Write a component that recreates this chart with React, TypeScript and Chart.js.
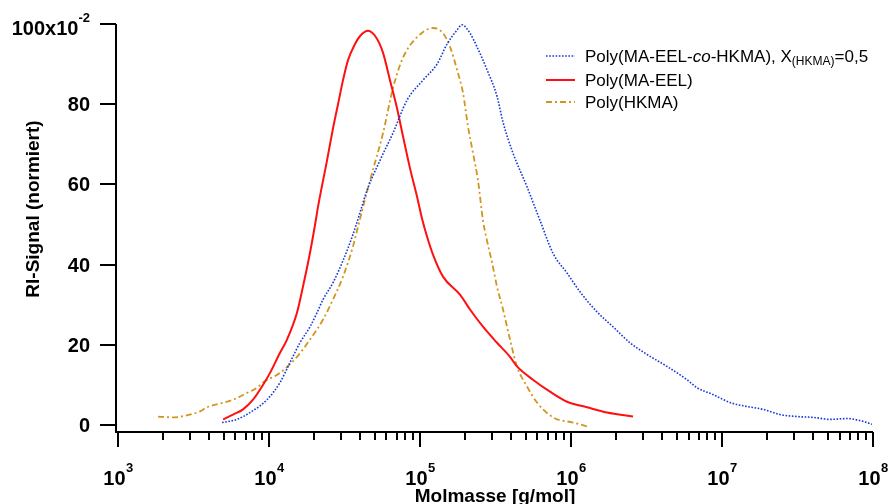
import React, { useEffect, useRef } from "react";
import { Chart, registerables } from "chart.js";

Chart.register(...registerables);

// ---------- data ----------
// Poly(MA-EEL-co-HKMA), X(HKMA)=0,5  (blue, dotted)
const molmassCopolymer = [
  4890, 6140, 7480, 9700, 11830, 13780, 16030, 18700, 20800, 22800, 26550, 30920,
  35980, 40100, 44560, 54330, 66220, 82020, 104700, 129700, 151100, 175900, 189800,
  214400, 238500, 277700, 323600, 354700, 413000, 511300, 623700, 760700, 941000,
  1148000, 1487000, 1897000, 2459000, 3186000, 4323000, 5861000, 6823000, 8710000,
  11290000, 14650000, 18700000, 24230000, 31410000, 40100000, 51900000, 67300000,
  85900000, 98400000,
];
const signalCopolymer = [
  0.6, 1.4, 3.1, 6.3, 10.6, 15.6, 20.5, 24.5, 28, 31.3, 35.5, 41,
  47.5, 53, 58.5, 66, 72.8, 81, 86, 90, 95, 98.5, 99.8,
  97.7, 94.3, 88.6, 82, 75.5, 67.8, 59.4, 51, 42.8, 37.9,
  33.2, 28.2, 24.5, 20.5, 17.6, 14.6, 11.3, 9.3, 7.6,
  5.6, 4.6, 3.9, 2.6, 2.1, 1.9, 1.4, 1.6,
  0.9, 0.2,
];

// Poly(MA-EEL)  (red, solid)
const molmassMAEEL = [
  4960, 5780, 6730, 7840, 8990, 10160, 11830, 13160, 15320, 16790, 18700, 20190,
  21140, 24230, 26550, 28650, 30920, 33370, 37130, 40100, 45290, 51500, 56920,
  63270, 70440, 77150, 85880, 95520, 103100, 111300, 121900, 142000, 184000,
  214400, 261300, 323600, 394500, 438900, 560000, 726000, 941000, 1277000,
  1731000, 2574000,
];
const signalMAEEL = [
  1.4, 2.6, 3.9, 6.3, 9.6, 13, 18, 21.3, 28, 34.5, 43, 50,
  54.5, 66, 74, 80, 86, 91, 95, 97, 98.3, 96.5, 92.8,
  86, 79, 72, 64, 57, 51.5, 47, 42.5, 37, 32.5,
  28.8, 24.5, 20.5, 17, 14.6, 11.3, 8.3, 5.8, 4.4,
  3.1, 2.1,
];

// Poly(HKMA)  (orange, dash-dot)
const molmassHKMA = [
  1842, 2312, 2997, 3490, 3880, 5270, 5780, 7150, 8330, 9120, 11830, 15320,
  18700, 22800, 26550, 30920, 35980, 38300, 46670, 56920, 66220, 77150, 95520,
  121900, 142000, 158100, 175900, 192700, 208000, 224400, 242100, 261300, 277700,
  299900, 323600, 354700, 394500, 438900, 511300, 595700, 760700, 1031000, 1297000,
];
const signalHKMA = [
  2.1, 1.9, 2.6, 3.4, 4.4, 5.8, 6.3, 8, 9.3, 10.6, 13, 17,
  21.3, 26.3, 31.3, 37, 44.5, 48.5, 61, 72.8, 84, 91.6, 96.7,
  99, 97.7, 94.3, 88.6, 82.8, 74.4, 67.8, 61, 51, 46,
  40.5, 34.5, 28.8, 21.3, 14.6, 9.6, 5.6, 1.9, 0.6, -0.4,
];

const xTickExponents = [3, 4, 5, 6, 7, 8];
const yTickValues = [0, 20, 40, 60, 80, 100];
const yTopTickMantissa = "100x10";
const yTopTickExponent = "-2";
const xTitle = "Molmasse [g/mol]";
const yTitle = "RI-Signal (normiert)";

const FONT = "'Liberation Sans', Arial, Helvetica, sans-serif";

const BLUE = "#1838d8";
const RED = "#ff1010";
const ORANGE = "#d1961e";

const toPoints = (xs: number[], ys: number[]) => xs.map((x, i) => ({ x, y: ys[i] }));

// ---------- custom Igor-like axes, labels and legend ----------
const igorPlugin = {
  id: "igorAxes",
  afterDatasetsDraw(chart: any) {
    const ctx: CanvasRenderingContext2D = chart.ctx;
    const xs = chart.scales.x;
    const ys = chart.scales.y;
    const { left, right, top, bottom } = chart.chartArea;
    ctx.save();
    ctx.setLineDash([]);
    ctx.strokeStyle = "#000";
    ctx.fillStyle = "#000";
    ctx.lineWidth = 2;
    ctx.lineCap = "butt";

    // axis lines
    ctx.beginPath();
    ctx.moveTo(left, top);
    ctx.lineTo(left, bottom);
    ctx.lineTo(right, bottom);
    ctx.stroke();

    // y ticks
    ctx.beginPath();
    for (const v of yTickValues) {
      const y = Math.round(ys.getPixelForValue(v));
      ctx.moveTo(left, y);
      ctx.lineTo(left - 16, y);
    }
    // x ticks (log major + minor)
    const eMin = xTickExponents[0];
    const eMax = xTickExponents[xTickExponents.length - 1];
    for (let e = eMin; e <= eMax; e++) {
      for (let m = 1; m <= 9; m++) {
        if (e === eMax && m > 1) break;
        const x = Math.round(xs.getPixelForValue(m * Math.pow(10, e)));
        const len = m === 1 ? 15 : 8;
        ctx.moveTo(x, bottom);
        ctx.lineTo(x, bottom + len);
      }
    }
    ctx.stroke();

    // y tick labels
    ctx.textAlign = "right";
    ctx.textBaseline = "alphabetic";
    for (const v of yTickValues) {
      const y = ys.getPixelForValue(v);
      if (v === 100) {
        ctx.font = `bold 13px ${FONT}`;
        const wSup = ctx.measureText(yTopTickExponent).width;
        ctx.fillText(yTopTickExponent, 90, 22);
        ctx.font = `bold 20px ${FONT}`;
        ctx.fillText(yTopTickMantissa, 90 - wSup, 35);
      } else {
        ctx.font = `bold 20px ${FONT}`;
        ctx.fillText(String(v), 90, y + 7);
      }
    }

    // x tick labels 10^n
    ctx.textAlign = "left";
    for (const e of xTickExponents) {
      const x = xs.getPixelForValue(Math.pow(10, e));
      ctx.font = `bold 20px ${FONT}`;
      const w1 = ctx.measureText("10").width;
      ctx.font = `bold 13px ${FONT}`;
      const w2 = ctx.measureText(String(e)).width;
      const start = x - (w1 + w2) / 2;
      ctx.font = `bold 20px ${FONT}`;
      ctx.fillText("10", start, 485);
      ctx.font = `bold 13px ${FONT}`;
      ctx.fillText(String(e), start + w1 + 0.5, 472);
    }

    // axis titles
    ctx.font = `bold 19px ${FONT}`;
    ctx.textAlign = "center";
    ctx.fillText(xTitle, 495, 502);
    ctx.save();
    ctx.translate(39, 209);
    ctx.rotate(-Math.PI / 2);
    ctx.textBaseline = "alphabetic";
    ctx.fillText(yTitle, 0, 0);
    ctx.restore();

    // legend
    const ds = chart.data.datasets;
    const rows = [56, 80, 102];
    ctx.textAlign = "left";
    ctx.textBaseline = "alphabetic";
    ds.forEach((d: any, i: number) => {
      const y = rows[i];
      ctx.save();
      ctx.strokeStyle = d.borderColor;
      ctx.lineWidth = d.borderWidth;
      ctx.setLineDash(d.borderDash || []);
      ctx.beginPath();
      ctx.moveTo(546, y);
      ctx.lineTo(575, y);
      ctx.stroke();
      ctx.restore();
      let tx = 585;
      const base = y + 6;
      for (const seg of d.legendSegments as any[]) {
        const size = seg.sub ? 12 : 17;
        ctx.font = `${seg.italic ? "italic " : ""}${size}px ${FONT}`;
        ctx.fillText(seg.t, tx, seg.sub ? base + 3 : base);
        tx += ctx.measureText(seg.t).width;
      }
    });

    ctx.restore();
  },
};

export default function App() {
  const ref = useRef<HTMLCanvasElement | null>(null);

  useEffect(() => {
    if (!ref.current) return;
    const chart = new Chart(ref.current, {
      type: "line",
      data: {
        datasets: [
          {
            label: "Poly(MA-EEL-co-HKMA), X(HKMA)=0,5",
            data: toPoints(molmassCopolymer, signalCopolymer),
            borderColor: BLUE,
            borderWidth: 1.6,
            borderDash: [1.6, 1.6],
            pointRadius: 0,
            cubicInterpolationMode: "monotone",
            legendSegments: [
              { t: "Poly(MA-EEL-" },
              { t: "co", italic: true },
              { t: "-HKMA), X" },
              { t: "(HKMA)", sub: true },
              { t: "=0,5" },
            ],
          } as any,
          {
            label: "Poly(MA-EEL)",
            data: toPoints(molmassMAEEL, signalMAEEL),
            borderColor: RED,
            borderWidth: 2,
            pointRadius: 0,
            cubicInterpolationMode: "monotone",
            legendSegments: [{ t: "Poly(MA-EEL)" }],
          } as any,
          {
            label: "Poly(HKMA)",
            data: toPoints(molmassHKMA, signalHKMA),
            borderColor: ORANGE,
            borderWidth: 1.8,
            borderDash: [6, 3, 2, 3],
            pointRadius: 0,
            cubicInterpolationMode: "monotone",
            legendSegments: [{ t: "Poly(HKMA)" }],
          } as any,
        ],
      },
      options: {
        responsive: false,
        animation: false,
        devicePixelRatio: 1,
        layout: { padding: { left: 116, right: 15, top: 24, bottom: 72 } },
        plugins: { legend: { display: false }, tooltip: { enabled: false } },
        scales: {
          x: { type: "logarithmic", min: 970, max: 1e8, display: false },
          y: { type: "linear", min: -1.75, max: 100, display: false },
        },
      },
      plugins: [igorPlugin],
    });
    return () => chart.destroy();
  }, []);

  return (
    <div style={{ position: "absolute", left: 0, top: 0, width: 888, height: 504, background: "#fff" }}>
      <canvas ref={ref} width={888} height={504} style={{ display: "block" }} />
    </div>
  );
}
